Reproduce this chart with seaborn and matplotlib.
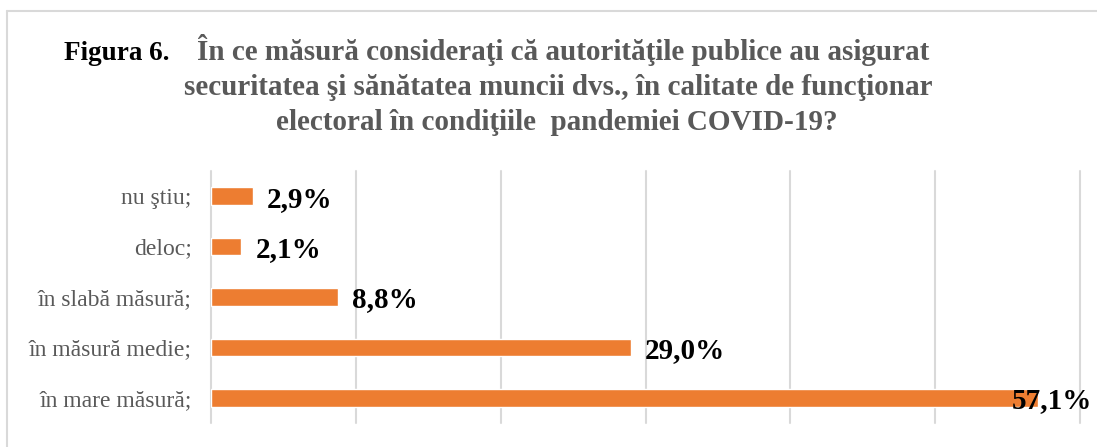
import matplotlib
matplotlib.use("Agg")
import matplotlib.pyplot as plt
from matplotlib.lines import Line2D
import seaborn as sns

# data
categories = ["nu ştiu;", "deloc;", "în slabă măsură;", "în măsură medie;", "în mare măsură;"]
values = [2.9, 2.1, 8.8, 29.0, 57.1]
title_lead = "Figura 6."
title_lines = [
    "În ce măsură consideraţi că autorităţile publice au asigurat",
    "securitatea şi sănătatea muncii dvs., în calitate de funcţionar",
    "electoral în condiţiile  pandemiei COVID-19?",
]

sns.set_style("white")
plt.rcParams["font.family"] = ["Liberation Serif", "DejaVu Serif"]

W, H = 1097, 447
fig = plt.figure(figsize=(W / 100, H / 100), dpi=100)
ax = fig.add_axes([211 / W, 1 - 423 / H, (1080 - 211) / W, (423 - 171) / H])

sns.barplot(x=values, y=categories, orient="h", color="#ED7D31",
            width=0.35, saturation=1, ax=ax)

ax.set_xlim(0, 60)
ax.set_xticks(range(0, 61, 10))
ax.set_xticklabels([])
ax.grid(axis="x", color="#D9D9D9", linewidth=1.5)
ax.grid(axis="y", visible=False)
ax.set_axisbelow(True)
for gl in ax.get_xgridlines():
    gl.set_clip_on(False)
for s in ax.spines.values():
    s.set_visible(False)
ax.tick_params(axis="both", length=0)
ax.tick_params(axis="y", pad=14, labelsize=17, labelcolor="#595959")
ax.set_xlabel("")
ax.set_ylabel("")

# value labels (the last one is pulled in to stay inside the figure)
for i, v in enumerate(values):
    ax.annotate(f"{v:.1f}%".replace(".", ","), xy=(min(v, 54.3), i),
                xytext=(10, 0), textcoords="offset points",
                ha="left", va="center_baseline", fontsize=21,
                fontweight="bold", color="black", annotation_clip=False)

# title
fig.text(64 / W, 1 - 60 / H, title_lead, ha="left", va="baseline",
         fontsize=19.5, fontweight="bold", color="black")
for line, cx, base in zip(title_lines, [563, 558, 557], [60, 95, 130]):
    fig.text(cx / W, 1 - base / H, line, ha="center", va="baseline",
             fontsize=21, fontweight="bold", color="#595959")

# chart frame
fig.add_artist(Line2D([7 / W, 1], [1 - 11 / H, 1 - 11 / H], color="#D9D9D9", lw=1.5))
fig.add_artist(Line2D([7 / W, 7 / W], [0, 1 - 11 / H], color="#D9D9D9", lw=1.5))

fig.savefig("out.png", dpi=100)
